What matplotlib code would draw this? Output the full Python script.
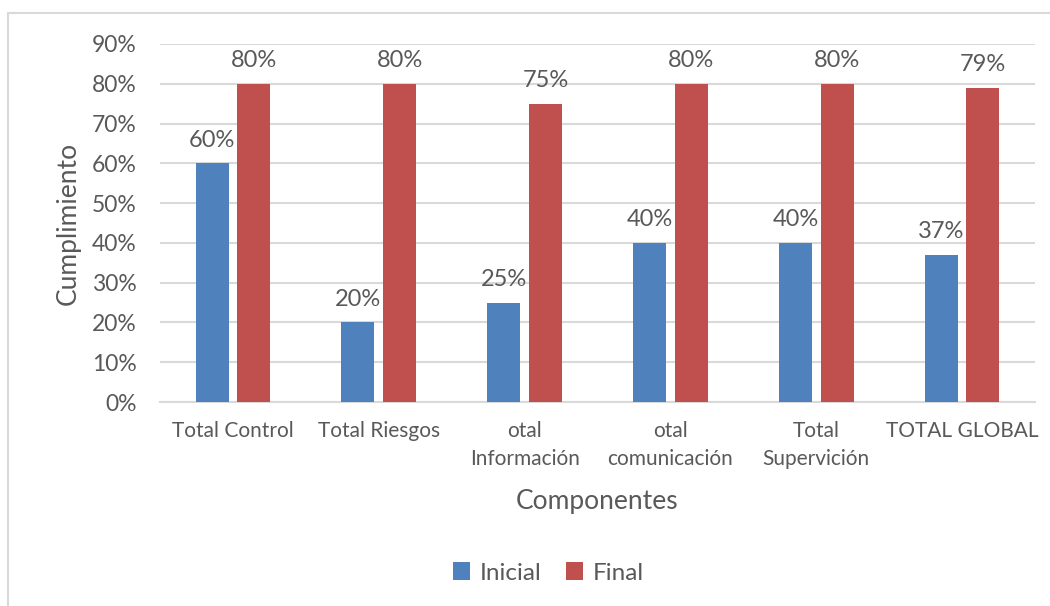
import matplotlib
matplotlib.use("Agg")
import matplotlib.pyplot as plt
import numpy as np
from matplotlib.patches import Rectangle

categories = ["Total Control", "Total Riesgos", "otal\nInformación",
              "otal\ncomunicación", "Total\nSupervición", "TOTAL GLOBAL"]
inicial = [0.60, 0.20, 0.25, 0.40, 0.40, 0.37]
final = [0.80, 0.80, 0.75, 0.80, 0.80, 0.79]
yticks = [0.0, 0.1, 0.2, 0.3, 0.4, 0.5, 0.6, 0.7, 0.8, 0.9]

plt.rcParams['font.family'] = ['Lato', 'DejaVu Sans']
TXT = "#595959"
GRID = "#D9D9D9"
BLUE = "#4F81BD"
RED = "#C0504D"

fig = plt.figure(figsize=(10.5, 6.06), dpi=100)
ax = fig.add_axes([0.1524, 0.3366, 0.8333, 0.5908])

# chart border
fig.patches.append(Rectangle((0.0076, -0.05), 1.05, 1.05 - 13 / 606,
                             transform=fig.transFigure, fill=False,
                             edgecolor=GRID, linewidth=1.5))

x = np.arange(len(categories))
w = 0.226
gap = 0.03
b1 = ax.bar(x - w / 2 - gap, inicial, w, color=BLUE, label="Inicial", zorder=3)
b2 = ax.bar(x + w / 2 + gap, final, w, color=RED, label="Final", zorder=3)

for bars, vals in ((b1, inicial), (b2, final)):
    for r, v in zip(bars, vals):
        ax.annotate(f"{v:.0%}", (r.get_x() + r.get_width() / 2, v),
                    xytext=(0, 9), textcoords="offset points",
                    ha="center", va="bottom", fontsize=17, color=TXT)

ax.set_xlim(-0.5, len(categories) - 0.5)
ax.set_ylim(0, 0.9)
ax.set_yticks(yticks)
ax.set_yticklabels([f"{t:.0%}" for t in yticks], fontsize=16.5, color=TXT)
ax.set_xticks(x)
ax.set_xticklabels(categories, fontsize=15, color=TXT, linespacing=1.45, va="top")
ax.tick_params(axis="both", length=0)
ax.tick_params(axis="y", pad=17)
ax.tick_params(axis="x", pad=14)
ax.yaxis.grid(True, color=GRID, linewidth=1.5, zorder=0)
for s in ("top", "right", "left"):
    ax.spines[s].set_visible(False)
ax.spines["bottom"].set_color(GRID)
ax.spines["bottom"].set_linewidth(1.5)
ax.set_axisbelow(True)

ax.set_ylabel("Cumplimiento", fontsize=19, color=TXT, labelpad=8)
ax.set_xlabel("Componentes", fontsize=19, color=TXT, labelpad=15)

fig.legend(handles=[b1, b2], labels=["Inicial", "Final"], loc="center",
           bbox_to_anchor=(0.522, 1 - 573 / 606), ncol=2, frameon=False,
           fontsize=17.5, labelcolor=TXT, handlelength=0.7, handleheight=0.7,
           handletextpad=0.4, columnspacing=1.0)

fig.savefig("out.png", dpi=100)
